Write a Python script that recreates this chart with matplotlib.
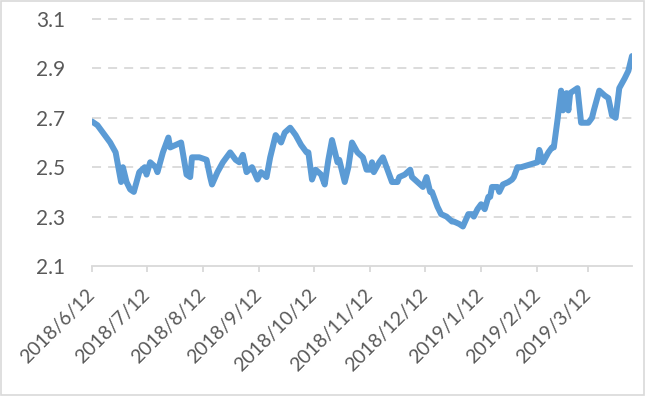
import numpy as np
import pandas as pd
import matplotlib
matplotlib.use("Agg")
import matplotlib.pyplot as plt
import matplotlib.dates as mdates
from matplotlib.patches import Rectangle

# values
dates = [
    "2018-06-12", "2018-06-15", "2018-06-22", "2018-06-25", "2018-06-27", "2018-06-28",
    "2018-06-29", "2018-07-01", "2018-07-03", "2018-07-05", "2018-07-08", "2018-07-11",
    "2018-07-12", "2018-07-14", "2018-07-17", "2018-07-18", "2018-07-21", "2018-07-24",
    "2018-07-25", "2018-07-28", "2018-07-31", "2018-08-03", "2018-08-05", "2018-08-06",
    "2018-08-10", "2018-08-14", "2018-08-16", "2018-08-17", "2018-08-20", "2018-08-23",
    "2018-08-27", "2018-08-30", "2018-09-01", "2018-09-03", "2018-09-05", "2018-09-08",
    "2018-09-11", "2018-09-13", "2018-09-16", "2018-09-18", "2018-09-21", "2018-09-22",
    "2018-09-24", "2018-09-26", "2018-09-29", "2018-10-02", "2018-10-05", "2018-10-08",
    "2018-10-09", "2018-10-11", "2018-10-13", "2018-10-16", "2018-10-18", "2018-10-20",
    "2018-10-22", "2018-10-25", "2018-10-26", "2018-10-29", "2018-10-31", "2018-11-02",
    "2018-11-05", "2018-11-08", "2018-11-10", "2018-11-12", "2018-11-13", "2018-11-14",
    "2018-11-17", "2018-11-19", "2018-11-22", "2018-11-24", "2018-11-27", "2018-11-28",
    "2018-12-01", "2018-12-04", "2018-12-05", "2018-12-08", "2018-12-11", "2018-12-13",
    "2018-12-15", "2018-12-16", "2018-12-19", "2018-12-21", "2018-12-24", "2018-12-27",
    "2018-12-28", "2018-12-31", "2019-01-02", "2019-01-05", "2019-01-07", "2019-01-08",
    "2019-01-10", "2019-01-12", "2019-01-14", "2019-01-16", "2019-01-17", "2019-01-18",
    "2019-01-21", "2019-01-22", "2019-01-24", "2019-01-27", "2019-01-29", "2019-01-30",
    "2019-02-01", "2019-02-03", "2019-02-12", "2019-02-13", "2019-02-15", "2019-02-18",
    "2019-02-20", "2019-02-21", "2019-02-23", "2019-02-25", "2019-02-26", "2019-02-28",
    "2019-03-01", "2019-03-02", "2019-03-06", "2019-03-08", "2019-03-12", "2019-03-14",
    "2019-03-15", "2019-03-18", "2019-03-21", "2019-03-23", "2019-03-25", "2019-03-27",
    "2019-03-29", "2019-04-01", "2019-04-03", "2019-04-05",
]
values = [
    2.685, 2.67, 2.60, 2.56, 2.48, 2.44,
    2.50, 2.44, 2.41, 2.40, 2.48, 2.50,
    2.47, 2.52, 2.50, 2.48, 2.56, 2.62,
    2.58, 2.59, 2.60, 2.47, 2.46, 2.54,
    2.54, 2.53, 2.46, 2.43, 2.48, 2.52,
    2.56, 2.53, 2.52, 2.55, 2.48, 2.50,
    2.45, 2.48, 2.46, 2.54, 2.63, 2.62,
    2.60, 2.64, 2.66, 2.63, 2.59, 2.56,
    2.56, 2.45, 2.49, 2.47, 2.43, 2.53,
    2.61, 2.52, 2.53, 2.44, 2.50, 2.60,
    2.56, 2.54, 2.49, 2.49, 2.52, 2.48,
    2.52, 2.54, 2.48, 2.44, 2.44, 2.46,
    2.47, 2.49, 2.46, 2.44, 2.42, 2.46,
    2.40, 2.40, 2.34, 2.31, 2.30, 2.28,
    2.28, 2.27, 2.26, 2.31, 2.31, 2.30,
    2.33, 2.35, 2.33, 2.38, 2.38, 2.42,
    2.42, 2.40, 2.43, 2.44, 2.45, 2.46,
    2.50, 2.50, 2.52, 2.57, 2.52, 2.56,
    2.58, 2.58, 2.69, 2.81, 2.73, 2.80,
    2.73, 2.80, 2.82, 2.68, 2.68, 2.70,
    2.73, 2.81, 2.79, 2.78, 2.71, 2.70,
    2.82, 2.86, 2.89, 2.95,
]
tick_dates = ["2018-06-12", "2018-07-12", "2018-08-12", "2018-09-12", "2018-10-12",
              "2018-11-12", "2018-12-12", "2019-01-12", "2019-02-12", "2019-03-12"]
tick_labels = ["2018/6/12", "2018/7/12", "2018/8/12", "2018/9/12", "2018/10/12",
               "2018/11/12", "2018/12/12", "2019/1/12", "2019/2/12", "2019/3/12"]
y_ticks = [2.1, 2.3, 2.5, 2.7, 2.9, 3.1]

plt.rcParams['font.family'] = ['Lato', 'DejaVu Sans']

x = pd.to_datetime(dates)
grid_col = '#D9D9D9'
text_col = '#595959'

fig = plt.figure(figsize=(6.45, 3.96), dpi=100)
ax = fig.add_axes([92 / 645, 1 - 266 / 396, (632 - 92) / 645, (266 - 19) / 396])

ax.plot(x, values, color='#5B9BD5', lw=4.3, solid_joinstyle='round',
        solid_capstyle='round', zorder=3)

ax.set_ylim(2.1, 3.1)
ax.set_xlim(x[0], x[-1])
ax.set_yticks(y_ticks)
ax.set_yticklabels([f"{v:.1f}" for v in y_ticks])
for v in y_ticks[1:]:
    ax.axhline(v, color=grid_col, lw=1.3, dashes=(5, 3.9), zorder=1, clip_on=False)

ax.set_xticks(pd.to_datetime(tick_dates))
ax.set_xticklabels(tick_labels, rotation=45, ha='right', va='center',
                   rotation_mode='anchor')

for s in ['left', 'right', 'top']:
    ax.spines[s].set_visible(False)
ax.spines['bottom'].set_color(grid_col)
ax.spines['bottom'].set_linewidth(1.3)

ax.tick_params(axis='y', length=0, pad=19, labelsize=15, labelcolor=text_col)
ax.tick_params(axis='x', length=4, width=1.3, color=grid_col, pad=15,
               labelsize=14, labelcolor=text_col)

fig.patches.append(Rectangle((0.001, 0.002), 0.997, 0.996, transform=fig.transFigure,
                             fill=False, edgecolor=grid_col, lw=1.2))

fig.savefig('out.png', dpi=100)
